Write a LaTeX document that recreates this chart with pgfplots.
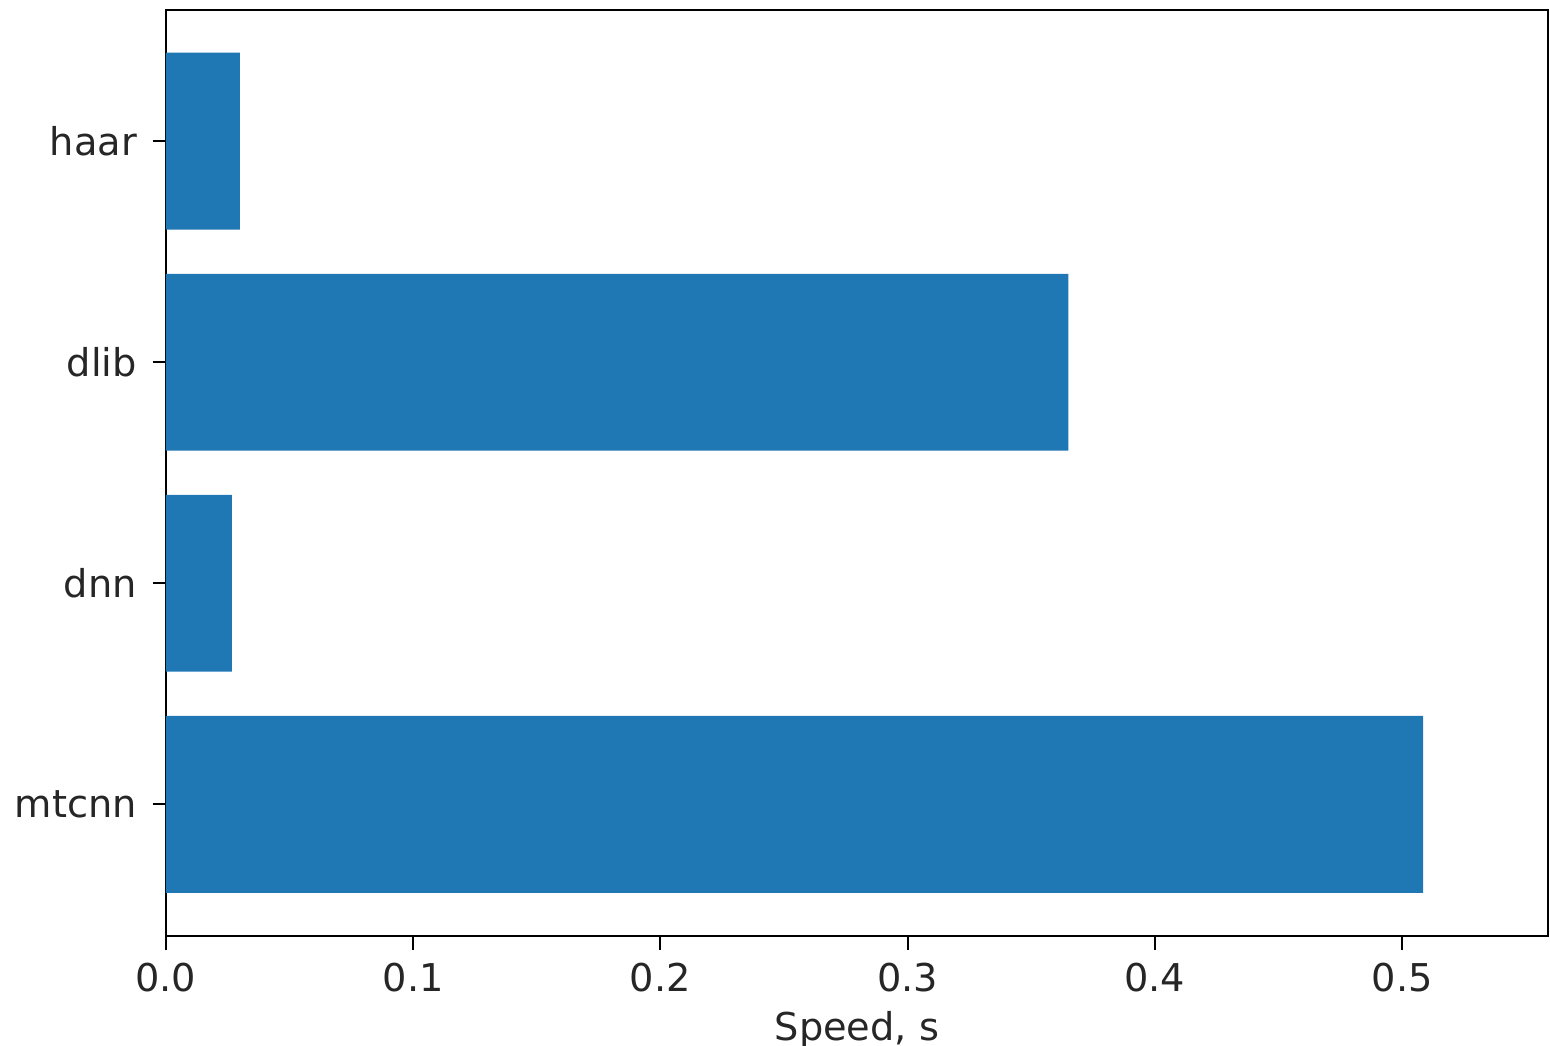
\documentclass[border=0pt]{standalone}
\usepackage{fontspec}
\setmainfont{DejaVu Sans}
\usepackage{pgfplots}
\pgfplotsset{compat=1.18}
\definecolor{mplblue}{HTML}{1F77B4}
\begin{document}
\begin{tikzpicture}
\useasboundingbox (-49.8pt,-32.7pt) rectangle (415.5pt,281.1pt);
\begin{axis}[
  at={(0,0)}, anchor=south west,
  scale only axis,
  width=414.9pt, height=278.1pt,
  xbar, bar width=53.1pt,
  xmin=0, xmax=0.559,
  ymin=-0.597, ymax=3.593,
  ytick={0,1,2,3},
  yticklabels={mtcnn,dnn,dlib,haar},
  xtick={0,0.1,0.2,0.3,0.4,0.5},
  /pgf/number format/assume math mode=true,
  xticklabel={\pgfmathprintnumber[fixed,precision=1,zerofill]{\tick}},
  tick align=outside,
  tick pos=left,
  major tick length=4pt,
  tick style={black, line width=0.6pt},
  axis line style={black, line width=0.6pt},
  ticklabel style={font=\fontsize{11.5}{13}\selectfont, text=black!85},
  yticklabel style={xshift=-1.2pt},
  xticklabel style={yshift=-0.5pt},
  xlabel={Speed, s},
  xlabel style={font=\fontsize{11.5}{13}\selectfont, text=black!85},
  every axis x label/.append style={yshift=1pt},
]
\addplot[fill=mplblue, draw=none] coordinates {
  (0.5085,0) (0.0267,1) (0.365,2) (0.0299,3)
};
\end{axis}
\end{tikzpicture}
\end{document}
